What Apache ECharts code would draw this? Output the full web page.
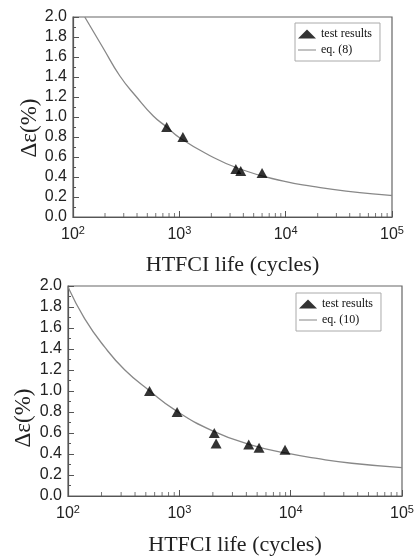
<!DOCTYPE html>
<html>
<head>
<meta charset="utf-8">
<script src="https://cdn.jsdelivr.net/npm/echarts@6/dist/echarts.min.js"></script>
<style>
html, body { margin: 0; padding: 0; background: #fff; }
#chart { width: 415px; height: 559px; }
</style>
</head>
<body>
<div id="chart"></div>
<script>
// top panel, eq. (8)
var topTestN = [760, 1080, 3400, 3780, 6000];
var topTestStrain = [0.90, 0.80, 0.48, 0.46, 0.44];
var topCurveN = [129, 192, 276, 396, 569, 760, 1014, 1780, 3720, 9550, 17900, 37000, 96000, 100000];
var topCurveStrain = [2.00, 1.69, 1.41, 1.20, 1.01, 0.90, 0.79, 0.635, 0.48, 0.358, 0.306, 0.258, 0.216, 0.215];

// bottom panel, eq. (10)
var botTestN = [540, 955, 2060, 2140, 4200, 5200, 8900];
var botTestStrain = [1.00, 0.80, 0.60, 0.50, 0.49, 0.46, 0.44];
var botCurveN = [100, 141, 213, 324, 543, 910, 1990, 4300, 9000, 17800, 35400, 100000];
var botCurveStrain = [1.99, 1.69, 1.42, 1.20, 1.00, 0.82, 0.62, 0.49, 0.41, 0.355, 0.312, 0.27];

// minor ticks of the log axis (2..9 x each decade)
var minorTicks = [200, 300, 400, 500, 600, 700, 800, 900,
                  2000, 3000, 4000, 5000, 6000, 7000, 8000, 9000,
                  20000, 30000, 40000, 50000, 60000, 70000, 80000, 90000];

var xTitle = 'HTFCI life (cycles)';
var yTitle = 'Δε(%)';

function pairs(xs, ys){
    return xs.map(function(x, i){ return [x, ys[i]]; });
}

var axisColor = '#555';
var serif = '"Liberation Serif", "DejaVu Serif", serif';
var sans = '"Liberation Sans", Arial, sans-serif';

function xAx(gridIndex, gap){
    return {
        gridIndex: gridIndex,
        type: 'log', logBase: 10, min: 100, max: 100000,
        name: xTitle, nameLocation: 'middle', nameGap: gap,
        nameTextStyle: { fontFamily: serif, fontSize: 22, color: '#222' },
        axisLine: { lineStyle: { color: axisColor, width: 1.2 } },
        axisTick: { inside: true, length: 6, lineStyle: { color: axisColor } },
        axisLabel: {
            margin: 8, color: '#222', fontFamily: sans, fontSize: 16,
            formatter: function(v){ return '10{s|' + Math.round(Math.log10(v)) + '}'; },
            rich: { s: { fontSize: 11, verticalAlign: 'top', padding: [0, 0, 8, 0], fontFamily: sans, color: '#222' } }
        },
        splitLine: { show: false }
    };
}
function yAx(gridIndex, gap, shift){
    return {
        gridIndex: gridIndex,
        type: 'value', min: 0, max: 2, interval: 0.2,
        name: yTitle, nameLocation: 'middle', nameGap: gap, nameMoveOverlap: false,
        nameTextStyle: { fontFamily: serif, fontSize: 23, color: '#222', padding: [0, shift, 0, 0] },
        axisLine: { show: true, lineStyle: { color: axisColor, width: 1.2 } },
        axisTick: { inside: true, length: 6, lineStyle: { color: axisColor } },
        minorTick: { show: true, splitNumber: 2, length: 3, lineStyle: { color: axisColor } },
        axisLabel: { margin: 6, color: '#222', fontFamily: sans, fontSize: 16,
            formatter: function(v){ return v.toFixed(1); } },
        splitLine: { show: false }
    };
}
function legendFor(left, top, eqName){
    return {
        left: left, top: top, orient: 'vertical',
        data: [
            { name: 'test results', icon: 'triangle' },
            { name: eqName, icon: 'path://M0,0 H20 V1 H0 Z' }
        ],
        borderColor: '#aaa', borderWidth: 1, borderRadius: 0,
        padding: [5, 8, 5, 3], itemGap: 4, itemWidth: 18, itemHeight: 9,
        textStyle: { fontFamily: serif, fontSize: 12, color: '#111' }
    };
}
function minorTickSeries(xi, yi){
    return {
        type: 'scatter', xAxisIndex: xi, yAxisIndex: yi, silent: true, clip: false,
        symbol: 'rect', symbolSize: [1, 4], symbolOffset: [0, -2],
        itemStyle: { color: axisColor }, z: 1,
        data: minorTicks.map(function(v){ return [v, 0]; })
    };
}

var dom = document.getElementById('chart');
var myChart = echarts.init(dom, null, { renderer: 'canvas' });
var option = {
    backgroundColor: '#fff',
    animation: false,
    grid: [
        { left: 73, top: 17, width: 319, height: 200, outerBoundsMode: 'none', show: true,
          borderColor: '#666', borderWidth: 1.2, backgroundColor: 'transparent' },
        { left: 68, top: 286, width: 334, height: 210, outerBoundsMode: 'none', show: true,
          borderColor: '#666', borderWidth: 1.2, backgroundColor: 'transparent' }
    ],
    legend: [legendFor(295, 23, 'eq. (8)'), legendFor(296, 293, 'eq. (10)')],
    xAxis: [xAx(0, 37), xAx(1, 38)],
    yAxis: [yAx(0, 32, 22), yAx(1, 33, 54)],
    series: [
        { name: 'eq. (8)', type: 'line', xAxisIndex: 0, yAxisIndex: 0, smooth: 0.5, symbol: 'none',
          lineStyle: { color: '#888', width: 1.3 }, itemStyle: { color: '#777' },
          data: pairs(topCurveN, topCurveStrain), z: 2 },
        { name: 'test results', type: 'scatter', xAxisIndex: 0, yAxisIndex: 0, symbol: 'triangle', symbolSize: [11, 10],
          itemStyle: { color: '#000' }, data: pairs(topTestN, topTestStrain), z: 3 },
        { name: 'eq. (10)', type: 'line', xAxisIndex: 1, yAxisIndex: 1, smooth: 0.5, symbol: 'none',
          lineStyle: { color: '#888', width: 1.3 }, itemStyle: { color: '#777' },
          data: pairs(botCurveN, botCurveStrain), z: 2 },
        { name: 'test results', type: 'scatter', xAxisIndex: 1, yAxisIndex: 1, symbol: 'triangle', symbolSize: [11, 10],
          itemStyle: { color: '#000' }, data: pairs(botTestN, botTestStrain), z: 3 },
        minorTickSeries(0, 0),
        minorTickSeries(1, 1)
    ]
};
if(option && typeof option === 'object'){
    myChart.setOption(option);
}
</script>
</body>
</html>
